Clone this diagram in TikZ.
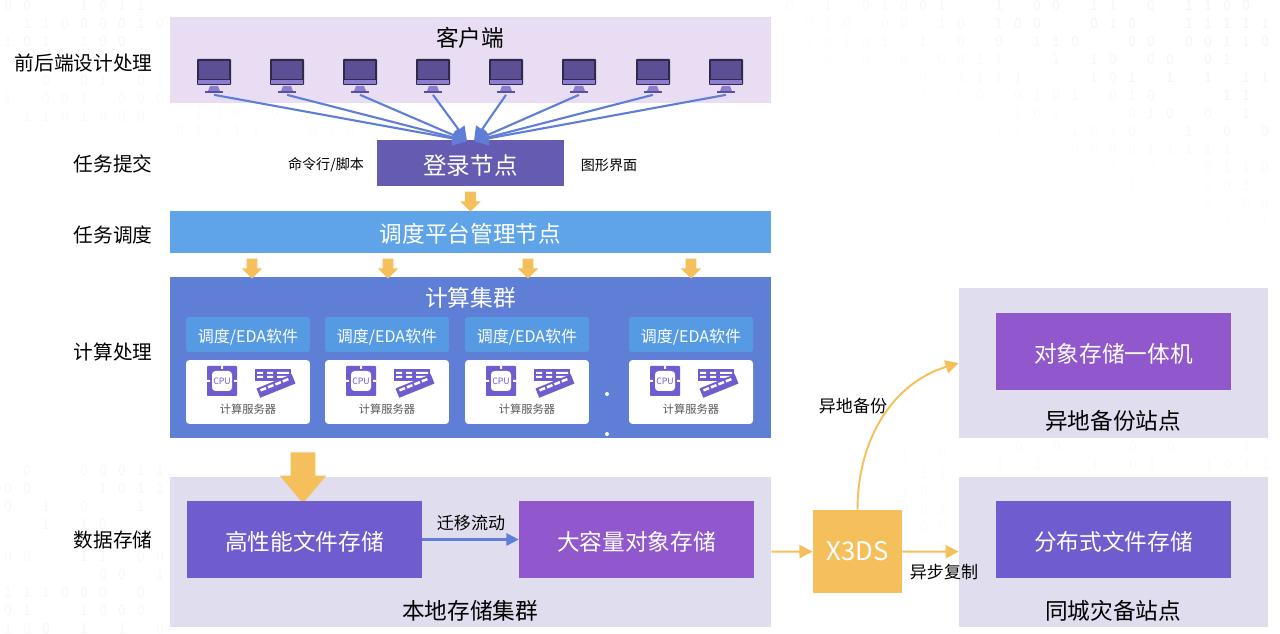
\documentclass[tikz,border=0pt]{standalone}
\usepackage{fontspec}
\setmainfont{Noto Sans CJK SC}
\usetikzlibrary{arrows.meta,shapes.arrows}
\definecolor{clientbg}{HTML}{E8DDF3}
\definecolor{loginc}{HTML}{655CB2}
\definecolor{schedc}{HTML}{5FA4E8}
\definecolor{clusterc}{HTML}{5F7FD6}
\definecolor{softc}{HTML}{559AE3}
\definecolor{storebg}{HTML}{DFDDEE}
\definecolor{violetc}{HTML}{6F5CCF}
\definecolor{purplec}{HTML}{9058CC}
\definecolor{goldc}{HTML}{F5BF5C}
\definecolor{framec}{HTML}{2F2A4A}
\definecolor{screenc}{HTML}{5C4F96}
\definecolor{chinc}{HTML}{8C7DD0}
\tikzset{
  big/.style={font=\fontsize{12.9}{15}\selectfont},
  lowtext/.style={text height=13.5pt,text depth=1.3pt},
  side/.style={anchor=east,inner sep=0pt,font=\fontsize{11.2}{14}\selectfont},
  tiny/.style={font=\fontsize{8}{10}\selectfont},
  mid/.style={font=\fontsize{9.7}{12}\selectfont},
  band/.style={minimum width=12.02cm,inner sep=0pt},
  solidbox/.style={minimum width=4.7cm,minimum height=1.54cm,inner sep=0pt,text=white,big,lowtext},
  softbox/.style={fill=softc,rounded corners=1pt,minimum width=2.48cm,minimum height=0.7cm,inner sep=0pt,text=white,text height=10pt,text depth=0.7pt,font=\fontsize{9.1}{11}\selectfont},
  serverbox/.style={fill=white,rounded corners=2pt,minimum width=2.48cm,minimum height=1.28cm,inner sep=0pt},
  sitebox/.style={fill=storebg,minimum width=6.18cm,minimum height=3cm,inner sep=0pt},
  smallarrow/.style={single arrow,fill=goldc,rotate=-90,inner xsep=0pt,inner ysep=0.1cm,minimum height=0.4cm,single arrow head extend=0.1cm,single arrow tip angle=90},
  bluelink/.style={draw=clusterc,line width=1.2pt,-{Triangle[length=8pt,width=8pt]}},
  goldlink/.style={draw=goldc,line width=1.1pt,-{Triangle[length=7.5pt,width=7.5pt]}},
  digit/.style={font=\fontsize{8}{9}\selectfont,inner sep=0pt},
  pics/monitor/.style={code={
    \fill[framec,rounded corners=0.5pt] (-17,-17) rectangle (17,9);
    \fill[screenc] (-15,-15) rectangle (15,3);
    \fill[chinc] (-16,4) rectangle (16,8);
    \fill[chinc] (-4,10) -- (4,10) -- (6,15) -- (-6,15) -- cycle;
    \fill[screenc] (-9,15) rectangle (9,17);
  }},
  pics/cpuicon/.style={code={
    \fill[violetc,rounded corners=0.5pt] (-15,-15) rectangle (15,15);
    \fill[white,rounded corners=2pt] (-10,-10) rectangle (10,10);
    \fill[white] (-1,-15) rectangle (1,-12) (-15,-1) rectangle (-12,1) (15,-1) rectangle (12,1);
    \node[text=violetc,inner sep=0pt,font=\fontsize{5}{6}\selectfont] (-lbl) at (0,0) {CPU};
  }},
  pics/ramicon/.style={code={
    \begin{scope}[shift={(-1,-6)}]
      \fill[violetc] (-18,-6) rectangle (18,6);
      \foreach \s in {-13,-3,7,13} \fill[white] (\s-3,-3) rectangle (\s+3,-1) (\s-3,1) rectangle (\s+3,3);
    \end{scope}
    \begin{scope}[shift={(2,5)},rotate=22]
      \fill[violetc] (-19,-5) rectangle (19,5);
      \foreach \s in {-13,-5,3,11} \fill[white] (\s-3,-3) rectangle (\s+3,-0.5);
    \end{scope}
  }}
}
\begin{document}
\begin{tikzpicture}[x=0.02cm,y=-0.02cm,line join=round]
\useasboundingbox (0,0) rectangle (1280,634);
% faint digits
\pgfmathsetseed{11}
\foreach \xa/\xb/\ya/\yb/\sh in {8/165/5/45/3,8/165/80/116/2.5,8/165/470/524/3,8/165/556/628/3,180/365/112/130/1.5,905/950/455/558/1.5,1000/1270/446/470/2}{
  \pgfmathtruncatemacro\yc{\ya+18}
  \pgfmathtruncatemacro\xc{\xa+19}
  \foreach \yy in {\ya,\yc,...,\yb}{
    \foreach \xx in {\xa,\xc,...,\xb}{
      \pgfmathrandominteger{\dg}{0}{2}
      \ifnum\dg<2 \node[digit,text=black!\sh] (d) at (\xx,\yy) {\dg}; \fi
    }
  }
}
\foreach \yy in {5,23,...,230}{
  \foreach \xx in {790,809,...,1275}{
    \pgfmathsetmacro\sh{min(4,(\xx-1000)*0.01+4-0.025*\yy)}
    \pgfmathrandominteger{\dg}{0}{2}
    \pgfmathtruncatemacro\keep{(\sh>0.6)&&(\dg<2)}
    \ifnum\keep=1 \node[digit,text=black!\sh] (d) at (\xx,\yy) {\dg}; \fi
  }
}
% bands
\node[band,fill=clientbg,minimum height=1.72cm] (client) at (470.5,60) {};
\node[big] (clienttitle) at (470,38) {客户端};
\node[fill=loginc,minimum width=3.74cm,minimum height=0.92cm,inner sep=0pt,text=white,text height=14.4pt,text depth=1.3pt,font=\fontsize{13.4}{16}\selectfont] (login) at (470.5,163) {登录节点};
\node[band,fill=schedc,minimum height=0.84cm,text=white,big,lowtext] (sched) at (470.5,232) {调度平台管理节点};
\node[band,fill=clusterc,minimum height=3.22cm] (cluster) at (470.5,357.5) {};
\node[big,text=white] (clustertitle) at (470.5,298) {计算集群};
\node[band,fill=storebg,minimum height=3cm] (local) at (470.5,552) {};
% left labels
\node[side] (l1) at (153,63) {前后端设计处理};
\node[side] (l2) at (153,164) {任务提交};
\node[side] (l3) at (153,235) {任务调度};
\node[side] (l4) at (153,352) {计算处理};
\node[side] (l5) at (153,540) {数据存储};
\node[tiny] (cli) at (326,164.5) {命令行/脚本};
\node[tiny] (gui) at (609,165) {图形界面};
% clients
\coordinate (tipa) at (467,141);
\coordinate (tipb) at (474,141);
\foreach \i/\x/\t in {1/214/tipa,2/287/tipa,3/360/tipa,4/433/tipa,5/506/tipb,6/579/tipb,7/653/tipb,8/726/tipb}{
  \node[minimum width=0.68cm,minimum height=0.74cm,inner sep=0pt] (c\i) at (\x,76) {};
  \pic at (c\i) {monitor};
  \draw[bluelink] (c\i.south) -- (\t);
}
% yellow arrows
\node[smallarrow] (a0) at (470.5,199) {};
\foreach \i/\x in {1/252,2/388,3/528,4/691}{
  \node[smallarrow] (a\i) at (\x,266) {};
}
\node[single arrow,fill=goldc,rotate=-90,inner xsep=0pt,inner ysep=0.24cm,minimum height=1.02cm,single arrow head extend=0.22cm,single arrow tip angle=80] (a5) at (303,470.5) {};
% servers
\foreach \i/\x in {1/248,2/387,3/527,4/691}{
  \node[softbox] (s\i) at (\x,334.5) {调度/EDA软件};
  \node[serverbox] (h\i) at (\x,392) {};
  \pic (cpu\i) at (\x-26,381) {cpuicon};
  \pic at (\x+26,381) {ramicon};
  \node[text=black!65,inner sep=0pt,font=\fontsize{6.4}{8}\selectfont] (n\i) at (\x,409) {计算服务器};
}
\fill[white] (607,394) circle (2);
\fill[white] (607,434) circle (2);
% storage
\node[solidbox,fill=violetc] (hp) at (304.5,539.5) {高性能文件存储};
\node[solidbox,fill=purplec] (bulk) at (636.5,539.5) {大容量对象存储};
\draw[bluelink,-{Triangle[length=7pt,width=7pt]}] (hp) -- (bulk);
\node[mid] (move) at (471,523) {迁移流动};
\node[big] (localtitle) at (470,611) {本地存储集群};
% sites
\node[sitebox] (remote) at (1113.5,363) {};
\node[solidbox,fill=purplec] (obj) at (1113.5,351.5) {对象存储一体机};
\node[big] (remotetitle) at (1113,421) {异地备份站点};
\node[sitebox] (city) at (1113.5,552) {};
\node[solidbox,fill=violetc] (dfs) at (1113.5,539.5) {分布式文件存储};
\node[big] (citytitle) at (1113,611) {同城灾备站点};
\node[fill=goldc,minimum width=1.78cm,minimum height=1.66cm,inner sep=0pt,text=white,font=\fontsize{14.6}{17}\selectfont] (x3ds) at (857.5,551.5) {X3DS};
\draw[goldlink] (local) -- (x3ds);
\draw[goldlink] (x3ds) -- (city);
\draw[goldlink] (x3ds.north) to[out=90,in=197] (remote.west);
\node[mid] (bak) at (853,406) {异地备份};
\node[mid] (rep) at (944,572) {异步复制};
\end{tikzpicture}
\end{document}
